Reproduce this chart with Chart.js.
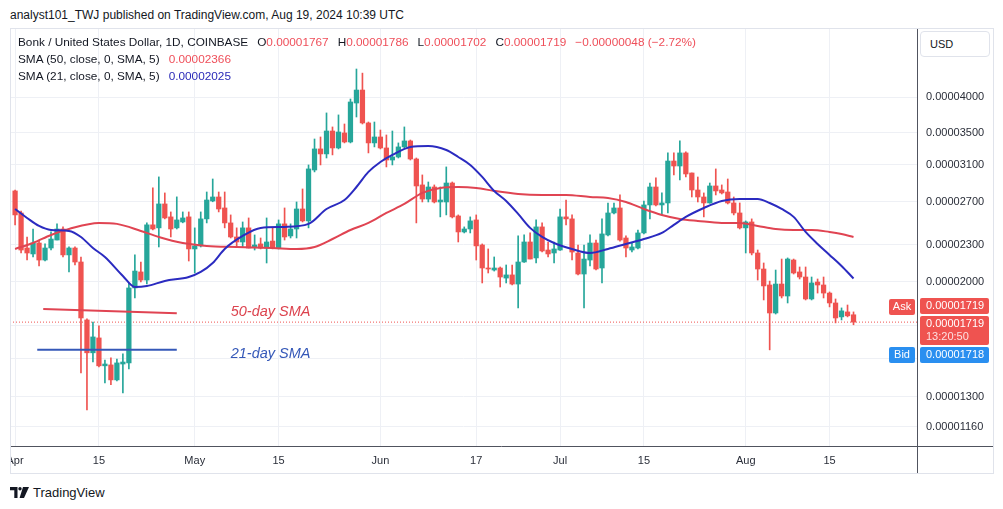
<!DOCTYPE html>
<html>
<head>
<meta charset="utf-8">
<script src="https://cdn.jsdelivr.net/npm/chart.js@4.4.0/dist/chart.umd.min.js"></script>
<style>
  html,body{margin:0;padding:0;background:#fff;}
  body{width:1003px;height:509px;overflow:hidden;position:relative;font-family:"Liberation Sans",Arial,sans-serif;color:#131722;}
  #hdr{position:absolute;left:10px;top:8px;font-size:12px;line-height:14px;white-space:nowrap;}
  #wrap{position:absolute;left:10px;top:28px;width:983px;height:445px;}
  #frame{position:absolute;left:10px;top:28px;width:982px;height:444px;border:1px solid #e0e3eb;pointer-events:none;}
  .lg{position:absolute;left:18px;font-size:11.8px;line-height:14px;white-space:nowrap;}
  .g{margin-left:9px;}
  .rv{color:#ef4f5a;}
  .bv{color:#2a2ab8;}
  #usd{position:absolute;left:920px;top:31px;width:68px;height:24px;border:1px solid #e0e3eb;border-radius:4px;background:#fff;font-size:11px;line-height:24px;text-indent:9px;}
  #logo{position:absolute;left:10px;top:485px;height:14px;display:flex;align-items:center;font-size:13px;color:#131722;}
  #logo svg{margin-right:4px;}
</style>
</head>
<body>
<div id="hdr">analyst101_TWJ published on TradingView.com, Aug 19, 2024 10:39 UTC</div>
<div id="wrap"><canvas id="c" width="983" height="445"></canvas></div>
<div id="frame"></div>
<div class="lg" id="lg1" style="top:35px"></div>
<div class="lg" id="lg2" style="top:52px"></div>
<div class="lg" id="lg3" style="top:69px"></div>
<div id="usd">USD</div>
<div id="logo"><svg width="19" height="11" viewBox="0 0 19 11"><path d="M0 0h7.5v11H4.3V3.2H0z" fill="#131722"/><circle cx="10" cy="1.7" r="1.7" fill="#131722"/><path d="M13 0h6l-5 11H9.6z" fill="#131722"/></svg>TradingView</div>
<script>
// ---- data (prices in units of 1e-8 USD), one candle per day starting 2024-04-01 ----
const UNIT = 1e-8;
const startDate = '2024-04-01';
const openP = [2812,2589,2270,2220,2313,2170,2270,2339,2438,2212,2270,2154,1733,1532,1620,1459,1464,1384,1469,1475,
  1954,2075,2013,2476,2448,2678,2551,2448,2503,2551,2262,2288,2532,2708,2749,2638,2494,2366,2322,2448,
  2279,2305,2270,2330,2270,2485,2375,2438,2628,2513,3042,3292,3231,3521,3304,3495,3379,3911,4106,3629,
  3367,3443,3304,3158,3194,3317,3392,3170,2876,2728,2854,2698,2698,2897,2560,2411,2438,2522,2296,2106,
  2090,2106,2028,2052,1983,2154,2322,2187,2457,2253,2228,2253,2551,2532,2228,2059,2170,2313,2106,2384,
  2589,2638,2357,2253,2270,2402,2668,2854,2668,2688,3146,3088,3243,3008,2822,2749,2688,2865,2822,2801,
  2688,2589,2448,2503,2228,2098,1976,1779,1983,1896,2170,2075,2036,1875,1998,1976,1917,1847,1753,1786,1767];
const highP = [2822,2608,2366,2438,2330,2305,2411,2485,2457,2279,2279,2195,1740,1720,1695,1491,1503,1497,1526,1991,
  2212,2154,2494,2844,2964,2791,2599,2750,2599,2599,2448,2599,2801,2941,2801,2801,2570,2448,2503,2541,
  2384,2357,2541,2448,2522,2638,2485,2698,2833,3100,3417,3443,3768,3575,3740,3615,3970,4443,4375,3642,
  3642,3534,3469,3521,3367,3575,3404,3182,2986,2908,2876,2854,3077,2908,2570,2457,2551,2570,2305,2262,
  2195,2114,2130,2130,2375,2384,2402,2522,2494,2322,2322,2628,2718,2570,2296,2296,2384,2339,2532,2688,
  2688,2770,2375,2313,2429,2708,2897,2953,2791,3243,3243,3392,3255,3008,2963,2791,2897,3054,2876,2941,
  2749,2688,2513,2532,2253,2146,2005,2090,2178,2187,2178,2114,2114,2036,2021,2036,1925,1875,1813,1833,1786];
const lowP = [2476,2228,2170,2195,2122,2162,2253,2339,2195,2075,2130,1421,1236,1480,1453,1369,1359,1379,1318,1442,
  1882,1998,1983,2429,2279,2532,2366,2438,2495,2162,2067,2279,2494,2700,2599,2448,2357,2279,2279,2270,
  2253,2262,2146,2262,2262,2339,2357,2357,2503,2448,3020,3100,3182,3219,3292,3367,3367,3711,3615,3243,
  3317,3292,3077,3100,3182,3304,3158,2494,2698,2698,2688,2551,2570,2541,2322,2402,2402,2170,1991,2067,
  2082,1961,1991,1976,1813,2150,2178,2146,2236,2195,2146,2250,2476,2170,2052,1813,2122,2090,1991,2375,
  2580,2330,2195,2236,2262,2393,2532,2658,2570,2589,2986,2930,2963,2749,2698,2551,2685,2770,2780,2678,
  2570,2438,2228,2212,2013,1868,1549,1772,1882,1847,2059,2021,1868,1868,1917,1882,1820,1714,1733,1753,1702];
const closeP = [2570,2253,2228,2313,2170,2270,2348,2438,2212,2270,2154,1746,1532,1626,1459,1469,1384,1475,1480,1954,
  2082,2013,2476,2438,2678,2541,2438,2522,2541,2262,2288,2532,2718,2749,2628,2494,2366,2322,2448,2270,
  2296,2270,2322,2270,2485,2366,2438,2628,2513,3054,3292,3231,3521,3304,3508,3379,3926,4106,3629,3367,
  3443,3304,3158,3194,3317,3392,3170,2865,2728,2854,2698,2718,2897,2551,2411,2438,2513,2288,2106,2098,
  2106,2036,2052,1983,2154,2322,2178,2457,2245,2220,2262,2551,2532,2236,2059,2178,2313,2098,2393,2589,
  2638,2339,2270,2279,2402,2668,2854,2668,2688,3146,3088,3243,2997,2822,2749,2688,2865,2812,2791,2688,
  2589,2448,2503,2228,2098,1969,1779,1983,1896,2178,2067,2036,1875,1991,1976,1917,1847,1746,1793,1760,1719];

// 50-day and 21-day SMA at these day indices
const sma50Days = [0,3,6,9,14,17,21,24,28,32,37,43,47,50,53,56,59,62,65,68,71,74,77,80,84,88,92,96,99,102,105,108,111,114,118,121,124,127,130,133,136,138,140];
const sma50 = [2262,2313,2384,2438,2494,2485,2420,2366,2313,2288,2279,2270,2262,2279,2348,2429,2494,2589,2678,2791,2844,2854,2844,2812,2780,2770,2770,2749,2739,2698,2628,2570,2532,2513,2494,2494,2466,2438,2429,2429,2411,2393,2366];
const sma21Days = [0,2,4,6,9,11,13,15,18,20,22,25,29,31,33,35,38,41,45,49,52,55,57,59,61,63,66,69,72,74,76,78,80,82,84,86,88,90,93,96,99,102,105,108,110,112,115,118,121,124,126,128,130,132,134,136,138,140];
const sma21 = [2628,2541,2466,2429,2420,2366,2270,2195,2044,1961,1968,2006,2036,2075,2146,2262,2375,2448,2457,2485,2628,2718,2854,3020,3135,3219,3317,3329,3279,3194,3100,2964,2812,2708,2580,2448,2366,2313,2262,2228,2262,2305,2348,2402,2476,2551,2638,2708,2728,2728,2688,2628,2551,2411,2305,2212,2122,2025];

// hand-drawn annotation segments (day, price)
const note50Days = [4.7, 27.0];
const note50Price = [1806, 1777];
const note21Days = [3.7, 27.0];
const note21Price = [1549, 1549];
const noteTextDay = 36;
const note50TextPrice = 1785;
const note21TextPrice = 1526;

const askPrice = 1719, bidPrice = 1718;
const countdown = '13:20:50';

// axes
const yTicks = [4000,3500,3100,2700,2300,2000,1700,1500,1300,1160];
const yMin = 1080, yMax = 5182;
const xTickDays = [0,14,30,44,61,77,91,105,122,136];
const xTickLabels = ['Apr','15','May','15','Jun','17','Jul','15','Aug','15'];
const xMin = -0.85, xMax = 150.6;

// ---- legend text ----
const n = closeP.length - 1;
const fmt = v => (v*UNIT).toFixed(8);
document.getElementById('lg1').innerHTML =
  'Bonk / United States Dollar, 1D, COINBASE' +
  '<span class="g">O<span class="rv">' + fmt(openP[n]) + '</span></span>' +
  '<span class="g">H<span class="rv">' + fmt(highP[n]) + '</span></span>' +
  '<span class="g">L<span class="rv">' + fmt(lowP[n]) + '</span></span>' +
  '<span class="g">C<span class="rv">' + fmt(closeP[n]) + '</span></span>' +
  '<span class="g rv">\u22120.00000048 (\u22122.72%)</span>';
document.getElementById('lg2').innerHTML = 'SMA (50, close, 0, SMA, 5)<span class="g rv">' + fmt(sma50[sma50.length-1]) + '</span>';
document.getElementById('lg3').innerHTML = 'SMA (21, close, 0, SMA, 5)<span class="g bv">' + fmt(sma21[sma21.length-1]) + '</span>';

// ---- chart ----
const UP = '#26a69a', DOWN = '#ef5350';
const colors = openP.map((o,i) => closeP[i] >= o ? UP : DOWN);
const wicks = openP.map((o,i) => ({x:i, y:[lowP[i]*UNIT, highP[i]*UNIT]}));
const bodies = openP.map((o,i) => ({x:i, y:[Math.min(o,closeP[i])*UNIT, Math.max(o,closeP[i])*UNIT]}));
const pts = (d, v) => d.map((x,i) => ({x, y:v[i]*UNIT}));

Chart.defaults.font.family = '"Liberation Sans", Arial, sans-serif';

const noPad = s => { s.paddingLeft = 0; s.paddingRight = 0; s.paddingTop = 0; s.paddingBottom = 0; };

const overlay = {
  id:'overlay',
  afterDraw(chart){
    const {ctx, chartArea:a, scales:{x, y}} = chart;
    ctx.save();
    ctx.strokeStyle = '#50535e'; ctx.lineWidth = 1;
    const rx = Math.round(a.right) + 0.5, by = Math.round(a.bottom) + 0.5;
    ctx.beginPath(); ctx.moveTo(rx, 0); ctx.lineTo(rx, chart.height); ctx.stroke();
    ctx.beginPath(); ctx.moveTo(0, by); ctx.lineTo(chart.width, by); ctx.stroke();
    ctx.textBaseline = 'middle'; ctx.textAlign = 'left';
    ctx.font = 'italic 14.5px "Liberation Sans", Arial, sans-serif';
    ctx.fillStyle = '#dc434e';
    ctx.fillText('50-day SMA', x.getPixelForValue(noteTextDay), y.getPixelForValue(note50TextPrice*UNIT));
    ctx.fillStyle = '#3558b8';
    ctx.fillText('21-day SMA', x.getPixelForValue(noteTextDay), y.getPixelForValue(note21TextPrice*UNIT));
    const p = y.getPixelForValue(askPrice*UNIT);
    const bx = a.right + 3, bw = 69;
    const rr = (x0,y0,w,h,col) => { ctx.fillStyle = col; ctx.beginPath(); ctx.roundRect(x0,y0,w,h,2); ctx.fill(); };
    ctx.font = '11px "Liberation Sans", Arial, sans-serif';
    rr(a.right - 28, p - 23, 26, 16, DOWN);
    rr(bx, p - 24, bw, 16, DOWN);
    ctx.fillStyle = '#fff'; ctx.textAlign = 'center';
    ctx.fillText('Ask', a.right - 15, p - 15);
    ctx.textAlign = 'left';
    ctx.fillText(fmt(askPrice), bx + 6, p - 16);
    rr(bx, p - 6, bw, 29, DOWN);
    ctx.fillStyle = '#fff';
    ctx.fillText(fmt(closeP[n]), bx + 6, p + 2);
    ctx.fillStyle = '#fde0e1';
    ctx.fillText(countdown, bx + 6, p + 15);
    const BID = '#2a8ff0';
    rr(a.right - 28, p + 25, 26, 16, BID);
    rr(bx, p + 25, bw, 16, BID);
    ctx.fillStyle = '#fff'; ctx.textAlign = 'center';
    ctx.fillText('Bid', a.right - 15, p + 33);
    ctx.textAlign = 'left';
    ctx.fillText(fmt(bidPrice), bx + 6, p + 33);
    ctx.restore();
  }
};

new Chart(document.getElementById('c'), {
  type:'bar',
  data:{datasets:[
    {type:'line', data:pts(sma21Days, sma21), borderColor:'#2b2bc0', borderWidth:2, pointRadius:0, cubicInterpolationMode:'monotone', order:0},
    {type:'line', data:pts(sma50Days, sma50), borderColor:'#e04452', borderWidth:2, pointRadius:0, cubicInterpolationMode:'monotone', order:1},
    {type:'line', data:pts(note50Days, note50Price), borderColor:'#e04452', borderWidth:2, pointRadius:0, order:0},
    {type:'line', data:pts(note21Days, note21Price), borderColor:'#3558b8', borderWidth:2, pointRadius:0, order:0},
    {type:'line', data:pts([xMin, xMax], [askPrice, askPrice]), borderColor:'#ef5350', borderWidth:1, borderDash:[1,2], pointRadius:0, order:5},
    {type:'bar', data:wicks, backgroundColor:colors, barThickness:1, grouped:false, order:4},
    {type:'bar', data:bodies, backgroundColor:colors, barThickness:4.6, grouped:false, minBarLength:1, order:3}
  ]},
  options:{
    responsive:false, animation:false,
    layout:{padding:0, autoPadding:false},
    plugins:{legend:{display:false}, tooltip:{enabled:false}},
    scales:{
      x:{type:'linear', min:xMin, max:xMax, bounds:'data', offset:false,
        afterBuildTicks:s => { s.ticks = xTickDays.map(v => ({value:v})); },
        afterFit:s => { s.height = 27; noPad(s); },
        ticks:{autoSkip:false, maxRotation:0, padding:8, color:'#2a2e39', font:{size:11},
          callback:(v) => xTickLabels[xTickDays.indexOf(v)]},
        grid:{color:'#eef0f5', drawTicks:false, offset:false},
        border:{display:false}
      },
      y:{type:'logarithmic', position:'right', min:yMin*UNIT, max:yMax*UNIT, bounds:'data',
        afterBuildTicks:s => { s.ticks = yTicks.map(v => ({value:v*UNIT})); },
        afterFit:s => { s.width = 76; noPad(s); },
        ticks:{padding:9, color:'#2a2e39', font:{size:11}, callback:v => v.toFixed(8)},
        grid:{color:'#eef0f5', drawTicks:false},
        border:{display:false}
      }
    }
  },
  plugins:[overlay]
});
</script>
</body>
</html>
